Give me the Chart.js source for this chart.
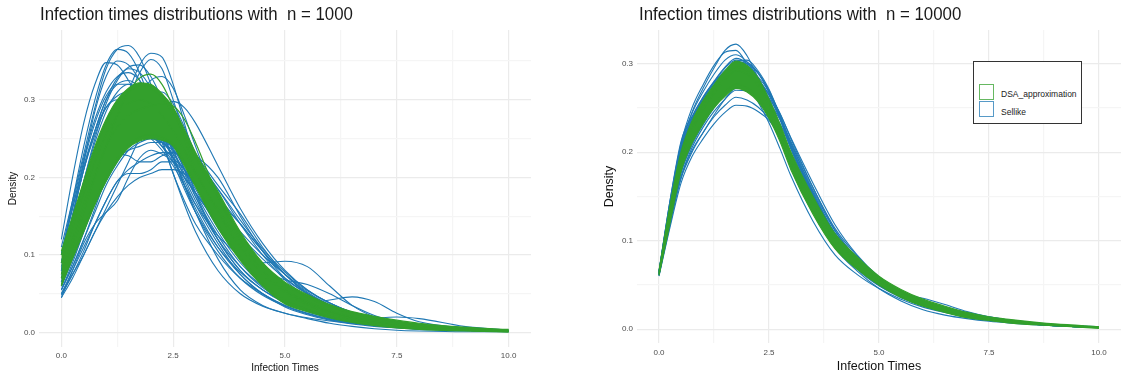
<!DOCTYPE html>
<html>
<head>
<meta charset="utf-8">
<script src="https://cdn.jsdelivr.net/npm/chart.js@4.4.1/dist/chart.umd.min.js"></script>
<style>
  body { margin: 0; background: #fff; width: 1121px; height: 374px; overflow: hidden; position: relative; font-family: 'Liberation Sans', Arial, sans-serif; }
  canvas { position: absolute; top: 0; }
  #leftChart { left: 0; }
  #rightChart { left: 560px; }
  .title { position: absolute; top: 5px; font-size: 18px; line-height: 18px; color: #1a1a1a; white-space: pre; transform: scaleX(0.935); transform-origin: left top; }
  .legend { position: absolute; left: 973px; top: 61px; width: 107px; height: 61px; border: 1px solid #333; background: #fff; }
  .key { position: absolute; left: 5px; width: 13px; height: 14px; border: 1.5px solid; }
  .key-label { position: absolute; left: 27px; font-size: 8.5px; line-height: 10px; color: #222; }
</style>
</head>
<body>
<canvas id="leftChart" width="560" height="374"></canvas>
<canvas id="rightChart" width="561" height="374"></canvas>
<div class="title" style="left:40px">Infection times distributions with  n = 1000</div>
<div class="title" style="left:639px">Infection times distributions with  n = 10000</div>
<div class="legend">
  <div class="key" style="top:22px;border-color:rgba(51,160,44,0.75)"></div>
  <div class="key-label" style="top:27px">DSA_approximation</div>
  <div class="key" style="top:39px;border-color:rgba(31,120,180,0.75)"></div>
  <div class="key-label" style="top:45px">Sellike</div>
</div>
<script>
// shared evaluation grid (infection time)
const xGrid = [0, 0.25, 0.5, 0.75, 1, 1.25, 1.5, 1.75, 2, 2.25, 2.5, 2.75, 3, 3.5, 4, 4.5, 5, 5.5, 6, 6.5, 7, 7.5, 8, 9, 10];

const xTickValues = [0, 1.25, 2.5, 3.75, 5, 6.25, 7.5, 8.75, 10];
const xMajorTicks = [0, 2.5, 5, 7.5, 10];
const xTickLabels = ['0.0', '2.5', '5.0', '7.5', '10.0'];
const yMajorTicks = [0, 0.1, 0.2, 0.3];
const yTickLabels = ['0.0', '0.1', '0.2', '0.3'];
const leftYTickValues = [0, 0.05, 0.1, 0.15, 0.2, 0.25, 0.3, 0.35];
const rightYTickValues = [0, 0.05, 0.1, 0.15, 0.2, 0.25, 0.3];

// n = 1000, Sellike densities
const leftSellike = [
    [0.11, 0.17, 0.23, 0.29, 0.34, 0.365, 0.37, 0.355, 0.32, 0.275, 0.23, 0.19, 0.155, 0.105, 0.07, 0.048, 0.034, 0.024, 0.017, 0.012, 0.009, 0.007, 0.005, 0.003, 0.002],
    [0.1, 0.17, 0.24, 0.3, 0.345, 0.365, 0.36, 0.335, 0.295, 0.25, 0.205, 0.17, 0.14, 0.1, 0.07, 0.05, 0.035, 0.025, 0.018, 0.013, 0.01, 0.007, 0.005, 0.003, 0.002],
    [0.07, 0.11, 0.15, 0.19, 0.23, 0.27, 0.31, 0.345, 0.36, 0.355, 0.32, 0.27, 0.22, 0.15, 0.1, 0.065, 0.045, 0.03, 0.02, 0.014, 0.01, 0.007, 0.005, 0.003, 0.002],
    [0.065, 0.1, 0.14, 0.18, 0.22, 0.26, 0.3, 0.335, 0.352, 0.34, 0.3, 0.255, 0.21, 0.145, 0.1, 0.068, 0.046, 0.031, 0.021, 0.015, 0.011, 0.008, 0.006, 0.003, 0.002],
    [0.12, 0.2, 0.27, 0.32, 0.348, 0.345, 0.325, 0.3, 0.275, 0.25, 0.225, 0.195, 0.165, 0.115, 0.075, 0.05, 0.033, 0.023, 0.016, 0.011, 0.008, 0.006, 0.004, 0.003, 0.002],
    [0.05, 0.075, 0.1, 0.13, 0.16, 0.19, 0.22, 0.25, 0.275, 0.29, 0.298, 0.29, 0.27, 0.215, 0.16, 0.115, 0.08, 0.055, 0.038, 0.026, 0.018, 0.012, 0.008, 0.004, 0.002],
    [0.05, 0.08, 0.11, 0.14, 0.17, 0.195, 0.205, 0.205, 0.21, 0.22, 0.22, 0.205, 0.19, 0.16, 0.125, 0.095, 0.07, 0.05, 0.035, 0.025, 0.017, 0.012, 0.008, 0.004, 0.002],
    [0.045, 0.08, 0.115, 0.14, 0.155, 0.17, 0.2, 0.225, 0.235, 0.23, 0.22, 0.2, 0.18, 0.14, 0.105, 0.078, 0.056, 0.04, 0.028, 0.02, 0.014, 0.01, 0.007, 0.004, 0.002],
    [0.07, 0.11, 0.15, 0.185, 0.21, 0.225, 0.235, 0.24, 0.245, 0.245, 0.24, 0.235, 0.228, 0.2, 0.15, 0.105, 0.07, 0.05, 0.035, 0.025, 0.018, 0.012, 0.008, 0.004, 0.002],
    [0.06, 0.1, 0.14, 0.18, 0.21, 0.235, 0.25, 0.255, 0.25, 0.235, 0.215, 0.19, 0.165, 0.125, 0.1, 0.09, 0.092, 0.085, 0.06, 0.035, 0.02, 0.012, 0.008, 0.004, 0.002],
    [0.08, 0.13, 0.18, 0.22, 0.255, 0.28, 0.29, 0.29, 0.28, 0.26, 0.235, 0.205, 0.175, 0.125, 0.085, 0.058, 0.042, 0.038, 0.042, 0.046, 0.04, 0.025, 0.014, 0.006, 0.003],
    [0.09, 0.15, 0.21, 0.26, 0.3, 0.32, 0.325, 0.315, 0.29, 0.26, 0.225, 0.19, 0.16, 0.11, 0.075, 0.05, 0.035, 0.025, 0.017, 0.012, 0.009, 0.007, 0.005, 0.003, 0.002],
    [0.06, 0.1, 0.14, 0.18, 0.22, 0.255, 0.28, 0.295, 0.3, 0.29, 0.27, 0.24, 0.21, 0.15, 0.105, 0.072, 0.05, 0.035, 0.024, 0.017, 0.012, 0.009, 0.006, 0.003, 0.002],
    [0.075, 0.12, 0.17, 0.215, 0.25, 0.27, 0.275, 0.27, 0.255, 0.24, 0.225, 0.21, 0.19, 0.15, 0.11, 0.075, 0.05, 0.033, 0.022, 0.015, 0.01, 0.007, 0.005, 0.003, 0.002],
    [0.055, 0.085, 0.12, 0.155, 0.19, 0.215, 0.235, 0.245, 0.25, 0.248, 0.24, 0.225, 0.205, 0.16, 0.115, 0.08, 0.052, 0.036, 0.025, 0.018, 0.013, 0.009, 0.006, 0.003, 0.002],
    [0.09, 0.15, 0.21, 0.255, 0.29, 0.305, 0.31, 0.3, 0.28, 0.255, 0.225, 0.19, 0.155, 0.095, 0.055, 0.035, 0.025, 0.018, 0.012, 0.008, 0.005, 0.003, 0.002, 0.001, 0.001],
    [0.06, 0.095, 0.13, 0.165, 0.195, 0.22, 0.24, 0.255, 0.265, 0.27, 0.265, 0.25, 0.23, 0.19, 0.153, 0.11, 0.075, 0.05, 0.033, 0.022, 0.015, 0.01, 0.007, 0.004, 0.002],
    [0.1, 0.165, 0.225, 0.275, 0.31, 0.33, 0.335, 0.325, 0.3, 0.27, 0.235, 0.2, 0.17, 0.12, 0.085, 0.06, 0.042, 0.03, 0.021, 0.015, 0.011, 0.008, 0.005, 0.003, 0.002],
    [0.055, 0.085, 0.12, 0.16, 0.2, 0.24, 0.275, 0.305, 0.325, 0.33, 0.315, 0.28, 0.24, 0.165, 0.11, 0.075, 0.05, 0.034, 0.023, 0.016, 0.011, 0.008, 0.005, 0.003, 0.002],
    [0.045, 0.07, 0.1, 0.13, 0.155, 0.175, 0.19, 0.2, 0.205, 0.21, 0.21, 0.205, 0.195, 0.17, 0.14, 0.105, 0.075, 0.052, 0.036, 0.025, 0.017, 0.012, 0.008, 0.004, 0.002],
    [0.09, 0.15, 0.21, 0.26, 0.3, 0.328, 0.34, 0.335, 0.315, 0.285, 0.25, 0.21, 0.175, 0.12, 0.08, 0.055, 0.038, 0.027, 0.019, 0.013, 0.009, 0.007, 0.005, 0.003, 0.002],
    [0.08, 0.15, 0.22, 0.285, 0.33, 0.35, 0.345, 0.325, 0.295, 0.26, 0.22, 0.185, 0.155, 0.11, 0.078, 0.055, 0.04, 0.028, 0.02, 0.014, 0.01, 0.007, 0.005, 0.003, 0.002],
    [0.085, 0.14, 0.195, 0.245, 0.285, 0.31, 0.32, 0.315, 0.3, 0.275, 0.245, 0.21, 0.18, 0.13, 0.09, 0.062, 0.043, 0.03, 0.021, 0.015, 0.011, 0.008, 0.006, 0.003, 0.002],
    [0.065, 0.105, 0.15, 0.195, 0.235, 0.265, 0.285, 0.29, 0.285, 0.27, 0.25, 0.225, 0.2, 0.155, 0.115, 0.082, 0.058, 0.04, 0.028, 0.02, 0.014, 0.01, 0.007, 0.004, 0.002],
    [0.1, 0.16, 0.215, 0.26, 0.29, 0.3, 0.295, 0.28, 0.26, 0.24, 0.22, 0.2, 0.18, 0.14, 0.1, 0.07, 0.048, 0.033, 0.023, 0.016, 0.011, 0.008, 0.006, 0.003, 0.002],
    [0.07, 0.11, 0.15, 0.19, 0.225, 0.25, 0.265, 0.27, 0.27, 0.265, 0.255, 0.24, 0.225, 0.185, 0.14, 0.1, 0.068, 0.046, 0.031, 0.021, 0.015, 0.011, 0.008, 0.004, 0.002],
    [0.055, 0.09, 0.13, 0.17, 0.205, 0.23, 0.245, 0.25, 0.25, 0.245, 0.235, 0.22, 0.2, 0.165, 0.13, 0.1, 0.075, 0.054, 0.038, 0.026, 0.018, 0.012, 0.008, 0.004, 0.002],
    [0.06, 0.095, 0.135, 0.175, 0.215, 0.25, 0.28, 0.3, 0.31, 0.31, 0.295, 0.265, 0.23, 0.165, 0.115, 0.08, 0.056, 0.039, 0.027, 0.019, 0.013, 0.009, 0.006, 0.003, 0.002],
    [0.06, 0.1, 0.145, 0.185, 0.215, 0.23, 0.228, 0.22, 0.22, 0.228, 0.232, 0.222, 0.2, 0.15, 0.105, 0.07, 0.047, 0.032, 0.022, 0.015, 0.011, 0.008, 0.006, 0.003, 0.002],
    [0.07, 0.11, 0.155, 0.195, 0.23, 0.255, 0.27, 0.275, 0.27, 0.258, 0.24, 0.222, 0.205, 0.175, 0.14, 0.105, 0.075, 0.05, 0.033, 0.022, 0.015, 0.01, 0.007, 0.004, 0.002],
    [0.1, 0.16, 0.22, 0.27, 0.305, 0.32, 0.32, 0.305, 0.28, 0.245, 0.205, 0.165, 0.13, 0.08, 0.05, 0.034, 0.025, 0.019, 0.015, 0.012, 0.009, 0.007, 0.005, 0.003, 0.001],
    [0.075, 0.125, 0.18, 0.23, 0.27, 0.295, 0.305, 0.305, 0.295, 0.28, 0.26, 0.235, 0.205, 0.15, 0.105, 0.072, 0.05, 0.035, 0.025, 0.018, 0.013, 0.009, 0.006, 0.003, 0.002],
    [0.065, 0.11, 0.155, 0.195, 0.225, 0.245, 0.255, 0.258, 0.255, 0.245, 0.23, 0.21, 0.19, 0.145, 0.105, 0.08, 0.068, 0.062, 0.05, 0.035, 0.022, 0.013, 0.008, 0.004, 0.002],
    [0.08, 0.135, 0.195, 0.25, 0.295, 0.325, 0.342, 0.345, 0.33, 0.3, 0.26, 0.22, 0.18, 0.12, 0.08, 0.055, 0.04, 0.029, 0.021, 0.015, 0.011, 0.008, 0.006, 0.003, 0.002],
    [0.048, 0.075, 0.105, 0.14, 0.17, 0.195, 0.21, 0.22, 0.228, 0.232, 0.232, 0.228, 0.218, 0.185, 0.145, 0.108, 0.078, 0.055, 0.038, 0.026, 0.018, 0.012, 0.008, 0.004, 0.002],
    [0.08, 0.13, 0.18, 0.225, 0.26, 0.28, 0.29, 0.288, 0.278, 0.26, 0.238, 0.212, 0.185, 0.135, 0.095, 0.065, 0.045, 0.032, 0.024, 0.02, 0.019, 0.02, 0.018, 0.008, 0.003],
];

// n = 1000, DSA approximation: band edges and a few single curves
const leftDsaUpper = [0.105, 0.15, 0.195, 0.24, 0.275, 0.3, 0.315, 0.322, 0.32, 0.308, 0.29, 0.262, 0.232, 0.182, 0.13, 0.09, 0.065, 0.049, 0.036, 0.027, 0.021, 0.016, 0.012, 0.007, 0.004];
const leftDsaLower = [0.06, 0.095, 0.13, 0.165, 0.195, 0.22, 0.238, 0.247, 0.25, 0.248, 0.24, 0.215, 0.188, 0.135, 0.093, 0.06, 0.037, 0.027, 0.019, 0.013, 0.009, 0.006, 0.004, 0.002, 0.001];
const leftDsa = [
    [0.07, 0.11, 0.155, 0.2, 0.24, 0.28, 0.31, 0.328, 0.333, 0.32, 0.29, 0.25, 0.21, 0.155, 0.11, 0.075, 0.052, 0.036, 0.025, 0.018, 0.013, 0.009, 0.006, 0.003, 0.002],
    [0.075, 0.12, 0.165, 0.205, 0.24, 0.265, 0.28, 0.288, 0.292, 0.295, 0.292, 0.275, 0.245, 0.175, 0.12, 0.08, 0.055, 0.038, 0.026, 0.018, 0.013, 0.009, 0.006, 0.003, 0.002],
    [0.09, 0.135, 0.18, 0.22, 0.255, 0.28, 0.295, 0.3, 0.295, 0.28, 0.26, 0.235, 0.205, 0.16, 0.115, 0.08, 0.055, 0.04, 0.028, 0.02, 0.015, 0.011, 0.008, 0.004, 0.002],
    [0.1, 0.145, 0.19, 0.235, 0.27, 0.295, 0.31, 0.318, 0.315, 0.302, 0.282, 0.255, 0.225, 0.175, 0.126, 0.088, 0.062, 0.046, 0.033, 0.025, 0.019, 0.014, 0.01, 0.006, 0.003],
    [0.062, 0.098, 0.135, 0.17, 0.2, 0.225, 0.242, 0.252, 0.255, 0.252, 0.243, 0.22, 0.192, 0.14, 0.098, 0.064, 0.042, 0.03, 0.021, 0.015, 0.011, 0.008, 0.005, 0.003, 0.001],
];

// n = 10000, Sellike densities
const rightSellike = [
    [0.064, 0.14, 0.205, 0.245, 0.272, 0.295, 0.315, 0.322, 0.309, 0.284, 0.256, 0.225, 0.192, 0.14, 0.098, 0.072, 0.052, 0.038, 0.028, 0.021, 0.015, 0.011, 0.008, 0.005, 0.002],
    [0.066, 0.145, 0.21, 0.25, 0.276, 0.298, 0.313, 0.315, 0.299, 0.274, 0.248, 0.219, 0.187, 0.135, 0.096, 0.07, 0.05, 0.037, 0.027, 0.02, 0.015, 0.011, 0.008, 0.005, 0.002],
    [0.062, 0.128, 0.185, 0.22, 0.245, 0.268, 0.288, 0.302, 0.304, 0.292, 0.271, 0.241, 0.207, 0.152, 0.106, 0.078, 0.056, 0.041, 0.03, 0.022, 0.016, 0.012, 0.009, 0.005, 0.002],
    [0.06, 0.115, 0.165, 0.195, 0.215, 0.232, 0.245, 0.253, 0.252, 0.246, 0.236, 0.217, 0.19, 0.144, 0.104, 0.078, 0.057, 0.042, 0.031, 0.023, 0.017, 0.012, 0.009, 0.005, 0.002],
    [0.063, 0.122, 0.172, 0.202, 0.222, 0.24, 0.253, 0.262, 0.259, 0.251, 0.238, 0.217, 0.19, 0.14, 0.101, 0.075, 0.055, 0.04, 0.03, 0.022, 0.016, 0.012, 0.009, 0.005, 0.002],
    [0.062, 0.125, 0.182, 0.215, 0.238, 0.256, 0.272, 0.283, 0.282, 0.274, 0.261, 0.239, 0.212, 0.16, 0.114, 0.083, 0.058, 0.042, 0.031, 0.023, 0.017, 0.012, 0.009, 0.005, 0.002],
    [0.064, 0.138, 0.2, 0.235, 0.258, 0.276, 0.288, 0.292, 0.279, 0.257, 0.233, 0.204, 0.173, 0.122, 0.084, 0.062, 0.046, 0.034, 0.025, 0.019, 0.014, 0.01, 0.008, 0.004, 0.002],
    [0.063, 0.13, 0.19, 0.225, 0.25, 0.268, 0.282, 0.29, 0.284, 0.269, 0.248, 0.221, 0.188, 0.137, 0.096, 0.07, 0.05, 0.04, 0.035, 0.028, 0.02, 0.014, 0.01, 0.005, 0.002],
    [0.063, 0.132, 0.193, 0.228, 0.252, 0.27, 0.284, 0.292, 0.286, 0.271, 0.25, 0.221, 0.188, 0.134, 0.092, 0.066, 0.046, 0.032, 0.022, 0.016, 0.012, 0.009, 0.007, 0.004, 0.002],
    [0.065, 0.145, 0.212, 0.24, 0.255, 0.265, 0.28, 0.29, 0.286, 0.274, 0.253, 0.224, 0.19, 0.139, 0.098, 0.073, 0.053, 0.039, 0.029, 0.021, 0.015, 0.011, 0.008, 0.005, 0.002],
    [0.062, 0.126, 0.183, 0.216, 0.24, 0.26, 0.278, 0.293, 0.294, 0.285, 0.268, 0.241, 0.208, 0.154, 0.108, 0.078, 0.056, 0.04, 0.029, 0.021, 0.015, 0.011, 0.008, 0.005, 0.002],
    [0.061, 0.118, 0.172, 0.205, 0.228, 0.246, 0.26, 0.27, 0.269, 0.262, 0.251, 0.232, 0.205, 0.152, 0.108, 0.08, 0.058, 0.043, 0.032, 0.024, 0.017, 0.012, 0.009, 0.005, 0.002],
    [0.065, 0.14, 0.202, 0.238, 0.262, 0.28, 0.296, 0.306, 0.3, 0.284, 0.26, 0.229, 0.195, 0.14, 0.096, 0.07, 0.05, 0.037, 0.028, 0.021, 0.015, 0.011, 0.008, 0.005, 0.002],
    [0.063, 0.128, 0.186, 0.218, 0.24, 0.256, 0.268, 0.276, 0.274, 0.265, 0.25, 0.227, 0.198, 0.147, 0.104, 0.076, 0.055, 0.041, 0.031, 0.023, 0.017, 0.012, 0.009, 0.005, 0.003],
    [0.062, 0.135, 0.198, 0.232, 0.255, 0.274, 0.29, 0.302, 0.3, 0.289, 0.268, 0.239, 0.205, 0.15, 0.104, 0.075, 0.053, 0.039, 0.029, 0.021, 0.015, 0.011, 0.008, 0.005, 0.002],
    [0.064, 0.125, 0.178, 0.21, 0.234, 0.254, 0.27, 0.28, 0.276, 0.264, 0.246, 0.221, 0.192, 0.144, 0.104, 0.078, 0.056, 0.041, 0.03, 0.022, 0.016, 0.012, 0.009, 0.005, 0.002],
    [0.063, 0.14, 0.203, 0.238, 0.26, 0.278, 0.292, 0.298, 0.29, 0.273, 0.25, 0.221, 0.188, 0.135, 0.094, 0.07, 0.05, 0.037, 0.027, 0.02, 0.014, 0.011, 0.008, 0.004, 0.002],
    [0.062, 0.12, 0.17, 0.2, 0.222, 0.242, 0.26, 0.272, 0.272, 0.267, 0.256, 0.237, 0.21, 0.157, 0.111, 0.08, 0.057, 0.041, 0.03, 0.022, 0.016, 0.012, 0.009, 0.005, 0.002],
    [0.064, 0.135, 0.196, 0.23, 0.252, 0.27, 0.285, 0.296, 0.294, 0.283, 0.264, 0.237, 0.205, 0.152, 0.106, 0.077, 0.054, 0.039, 0.028, 0.02, 0.014, 0.01, 0.008, 0.004, 0.002],
    [0.063, 0.13, 0.188, 0.222, 0.246, 0.265, 0.28, 0.288, 0.282, 0.269, 0.25, 0.226, 0.198, 0.149, 0.108, 0.08, 0.056, 0.04, 0.03, 0.024, 0.019, 0.014, 0.01, 0.005, 0.002],
    [0.061, 0.124, 0.18, 0.213, 0.236, 0.255, 0.27, 0.282, 0.284, 0.279, 0.266, 0.244, 0.215, 0.16, 0.112, 0.08, 0.055, 0.039, 0.028, 0.02, 0.015, 0.011, 0.008, 0.004, 0.002],
    [0.065, 0.142, 0.205, 0.24, 0.262, 0.279, 0.29, 0.294, 0.284, 0.266, 0.244, 0.216, 0.185, 0.134, 0.096, 0.07, 0.05, 0.036, 0.027, 0.02, 0.015, 0.011, 0.008, 0.005, 0.002],
    [0.065, 0.143, 0.208, 0.244, 0.268, 0.288, 0.304, 0.31, 0.302, 0.284, 0.26, 0.229, 0.195, 0.14, 0.097, 0.069, 0.05, 0.037, 0.027, 0.02, 0.015, 0.011, 0.008, 0.004, 0.002],
    [0.062, 0.122, 0.176, 0.208, 0.231, 0.25, 0.265, 0.274, 0.274, 0.265, 0.248, 0.224, 0.196, 0.146, 0.104, 0.075, 0.055, 0.041, 0.031, 0.023, 0.017, 0.012, 0.009, 0.005, 0.002],
    [0.064, 0.138, 0.2, 0.236, 0.26, 0.279, 0.295, 0.304, 0.302, 0.29, 0.27, 0.242, 0.21, 0.155, 0.108, 0.076, 0.054, 0.039, 0.028, 0.021, 0.015, 0.011, 0.008, 0.004, 0.002],
    [0.063, 0.127, 0.184, 0.218, 0.242, 0.262, 0.279, 0.289, 0.29, 0.281, 0.265, 0.243, 0.216, 0.165, 0.118, 0.084, 0.059, 0.042, 0.03, 0.022, 0.016, 0.012, 0.009, 0.005, 0.002],
    [0.063, 0.135, 0.195, 0.228, 0.25, 0.268, 0.283, 0.29, 0.286, 0.272, 0.25, 0.222, 0.19, 0.138, 0.096, 0.068, 0.049, 0.036, 0.027, 0.021, 0.016, 0.012, 0.009, 0.005, 0.002],
    [0.062, 0.13, 0.19, 0.224, 0.248, 0.268, 0.286, 0.298, 0.3, 0.29, 0.268, 0.238, 0.203, 0.148, 0.102, 0.072, 0.052, 0.038, 0.028, 0.021, 0.015, 0.011, 0.008, 0.004, 0.002],
];

// n = 10000, DSA approximation
const rightDsaUpper = [0.066, 0.14, 0.2, 0.235, 0.258, 0.276, 0.292, 0.303, 0.298, 0.284, 0.26, 0.232, 0.2, 0.15, 0.108, 0.082, 0.06, 0.045, 0.034, 0.026, 0.019, 0.014, 0.011, 0.006, 0.003];
const rightDsaLower = [0.061, 0.12, 0.178, 0.21, 0.232, 0.25, 0.263, 0.272, 0.268, 0.257, 0.238, 0.212, 0.18, 0.13, 0.091, 0.068, 0.05, 0.036, 0.026, 0.019, 0.013, 0.01, 0.007, 0.004, 0.001];
const rightDsa = [
    [0.063, 0.132, 0.19, 0.224, 0.248, 0.266, 0.281, 0.292, 0.288, 0.275, 0.252, 0.224, 0.19, 0.14, 0.1, 0.076, 0.055, 0.041, 0.03, 0.022, 0.016, 0.012, 0.009, 0.005, 0.002],
    [0.064, 0.136, 0.195, 0.23, 0.253, 0.27, 0.285, 0.296, 0.292, 0.279, 0.256, 0.227, 0.195, 0.144, 0.103, 0.078, 0.057, 0.042, 0.031, 0.023, 0.017, 0.012, 0.009, 0.005, 0.002],
    [0.062, 0.124, 0.182, 0.214, 0.236, 0.254, 0.268, 0.277, 0.273, 0.262, 0.243, 0.217, 0.185, 0.134, 0.094, 0.07, 0.052, 0.038, 0.028, 0.02, 0.014, 0.011, 0.008, 0.004, 0.002],
];

const colors = {
    sellike: '#1f78b4',
    dsa: '#33a02c',
    majorGrid: '#ebebeb',
    minorGrid: '#f5f5f5',
    tick: '#4d4d4d',
};

function toPoints(values) {
    return xGrid.map((x, i) => ({ x, y: values[i] }));
}

function curve(values, color, width, fill) {
    return {
        data: toPoints(values),
        borderColor: color,
        backgroundColor: color,
        borderWidth: width,
        pointRadius: 0,
        fill: fill || false,
        cubicInterpolationMode: 'monotone',
    };
}

function gridColor(majors) {
    return (ctx) => (ctx.tick && majors.includes(ctx.tick.value) ? colors.majorGrid : colors.minorGrid);
}

function buildPanel(canvas, opts) {
    // first dataset is drawn on top, so the green set comes first
    const datasets = [
        ...opts.dsa.map((v) => curve(v, colors.dsa, 1.2)),
        curve(opts.upper, colors.dsa, 1.2),
        curve(opts.lower, colors.dsa, 1.2, '-1'),
        ...opts.sellike.map((v) => curve(v, colors.sellike, 1.1)),
    ];

    return new Chart(canvas, {
        type: 'line',
        data: { datasets },
        options: {
            responsive: false,
            animation: false,
            devicePixelRatio: 1,
            layout: { padding: opts.padding },
            plugins: { legend: { display: false }, tooltip: { enabled: false } },
            scales: {
                x: {
                    type: 'linear',
                    min: -0.5,
                    max: 10.5,
                    afterBuildTicks: (scale) => { scale.ticks = xTickValues.map((value) => ({ value })); },
                    afterFit: (scale) => { scale.height = opts.xHeight; },
                    ticks: {
                        callback: (value) => { const i = xMajorTicks.indexOf(value); return i >= 0 ? xTickLabels[i] : ''; },
                        font: { family: 'Liberation Sans', size: 8 },
                        color: colors.tick,
                        padding: opts.xTickPad,
                        maxRotation: 0,
                        autoSkip: false,
                    },
                    grid: { color: gridColor(xMajorTicks), lineWidth: 1.2, drawTicks: false },
                    border: { display: false },
                    title: {
                        display: true,
                        text: 'Infection Times',
                        color: '#111',
                        font: { family: 'Liberation Sans', size: opts.axisFont },
                        padding: { top: 0, bottom: 0 },
                    },
                },
                y: {
                    type: 'linear',
                    min: opts.yMin,
                    max: opts.yMax,
                    afterBuildTicks: (scale) => { scale.ticks = opts.yTicks.map((value) => ({ value })); },
                    afterFit: (scale) => { scale.width = opts.yWidth; },
                    ticks: {
                        callback: (value) => { const i = yMajorTicks.indexOf(value); return i >= 0 ? yTickLabels[i] : ''; },
                        font: { family: 'Liberation Sans', size: 8 },
                        color: colors.tick,
                        padding: 4,
                        autoSkip: false,
                    },
                    grid: { color: gridColor(yMajorTicks), lineWidth: 1.2, drawTicks: false },
                    border: { display: false },
                    title: {
                        display: true,
                        text: 'Density',
                        color: '#111',
                        font: { family: 'Liberation Sans', size: opts.axisFont },
                        padding: { top: opts.yTitlePad, bottom: 0 },
                    },
                },
            },
        },
    });
}

buildPanel(document.getElementById('leftChart'), {
    sellike: leftSellike,
    dsa: leftDsa,
    upper: leftDsaUpper,
    lower: leftDsaLower,
    padding: { top: 30, right: 29, bottom: 0, left: 0 },
    xHeight: 27,
    yWidth: 39,
    xTickPad: 4,
    yTitlePad: 7,
    axisFont: 10,
    yMin: -0.0186,
    yMax: 0.39,
    yTicks: leftYTickValues,
});

buildPanel(document.getElementById('rightChart'), {
    sellike: rightSellike,
    dsa: rightDsa,
    upper: rightDsaUpper,
    lower: rightDsaLower,
    padding: { top: 30, right: 0, bottom: 0, left: 0 },
    xHeight: 31,
    yWidth: 77,
    xTickPad: 5,
    yTitlePad: 42,
    axisFont: 12.5,
    yMin: -0.0155,
    yMax: 0.338,
    yTicks: rightYTickValues,
});
</script>
</body>
</html>
